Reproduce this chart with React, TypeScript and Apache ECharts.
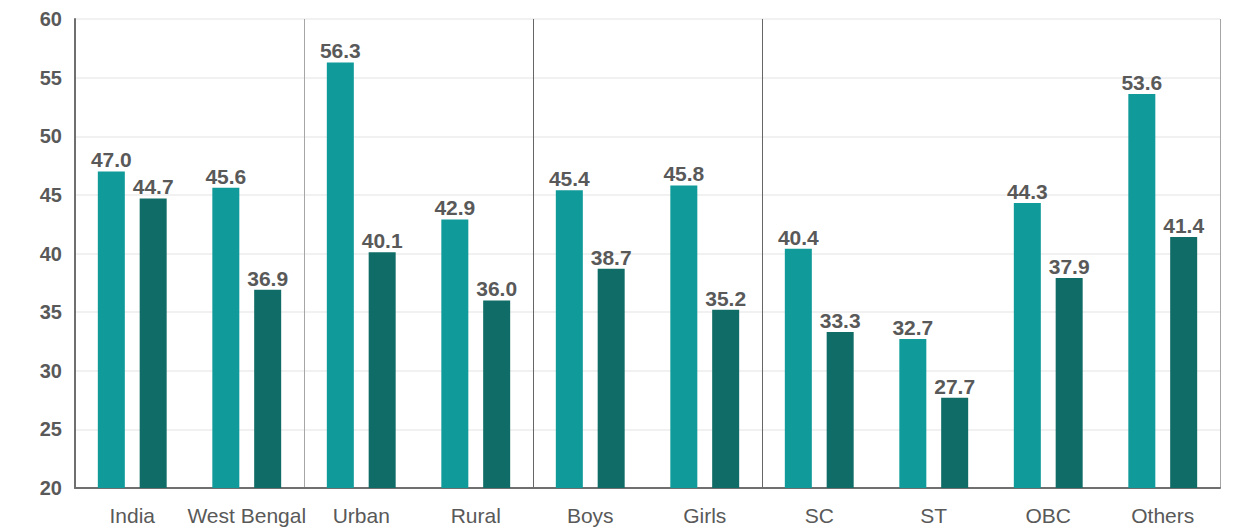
import React, { useEffect, useRef } from "react";
import * as echarts from "echarts";

const categories = ["India", "West Bengal", "Urban", "Rural", "Boys", "Girls", "SC", "ST", "OBC", "Others"];
const seriesA = [47.0, 45.6, 56.3, 42.9, 45.4, 45.8, 40.4, 32.7, 44.3, 53.6];
const seriesB = [44.7, 36.9, 40.1, 36.0, 38.7, 35.2, 33.3, 27.7, 37.9, 41.4];
const separatorAfter = [2, 4, 6];

const FONT = "Liberation Sans, Arial, sans-serif";

export default function App() {
  const ref = useRef<HTMLDivElement>(null);
  useEffect(() => {
    if (!ref.current) return;
    const chart = echarts.init(ref.current, null, { renderer: "svg" });
    const labelStyle = {
      show: true,
      position: "top" as const,
      distance: 1,
      color: "#595959",
      fontWeight: "bold" as const,
      fontSize: 21,
      fontFamily: FONT,
      formatter: (p: any) => Number(p.value).toFixed(1),
    };
    chart.setOption({
      animation: false,
      grid: { left: 75, right: 19, top: 19, bottom: 41, containLabel: false },
      xAxis: {
        type: "category",
        data: categories,
        axisLine: { lineStyle: { color: "#6f6f6f", width: 2 } },
        axisTick: { show: false },
        axisLabel: {
          color: "#595959",
          fontSize: 21,
          margin: 17,
          fontFamily: FONT,
          interval: 0,
        },
        splitLine: {
          show: true,
          interval: (index: number) => separatorAfter.indexOf(index) >= 0,
          lineStyle: { color: ["#a6a6a6", "#666666", "#666666"], width: 1 },
        },
      },
      yAxis: {
        type: "value",
        min: 20,
        max: 60,
        interval: 5,
        axisLine: { show: true, lineStyle: { color: "#6f6f6f", width: 2 } },
        axisTick: { show: false },
        axisLabel: {
          color: "#595959",
          fontSize: 20,
          fontWeight: "bold",
          margin: 13,
          fontFamily: FONT,
        },
        splitLine: { lineStyle: { color: "#ececec", width: 1.5 } },
      },
      series: [
        {
          type: "bar",
          data: seriesA,
          barWidth: 27,
          barGap: "55%",
          itemStyle: { color: "#109A99" },
          label: labelStyle,
        },
        {
          type: "bar",
          data: seriesB,
          barWidth: 27,
          itemStyle: { color: "#0F6C66" },
          label: labelStyle,
        },
      ],
    });
    return () => chart.dispose();
  }, []);
  return (
    <div
      ref={ref}
      style={{ position: "absolute", left: 0, top: 0, width: 1239, height: 529 }}
    />
  );
}
